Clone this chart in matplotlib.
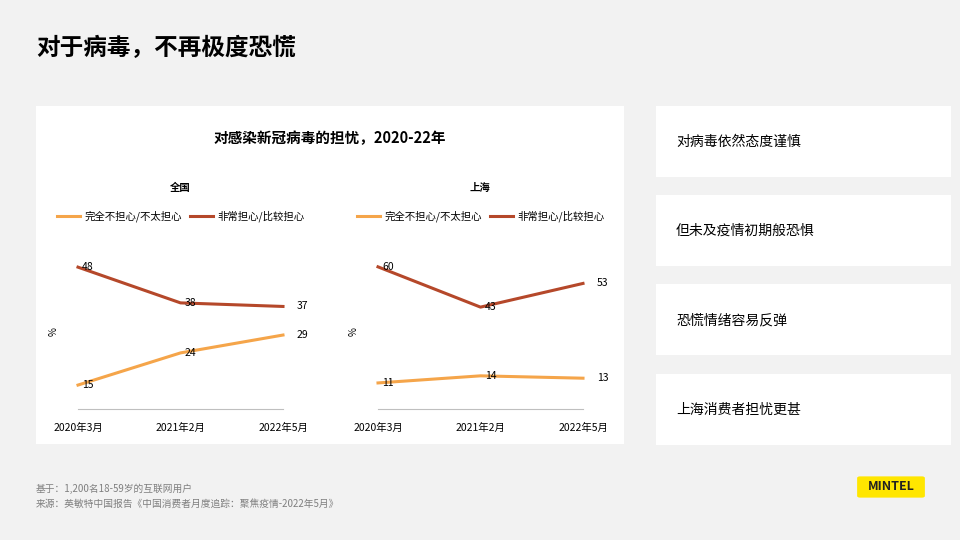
import matplotlib.pyplot as plt
from matplotlib.patches import Rectangle, FancyBboxPatch

plt.rcParams["font.family"] = "Noto Sans CJK SC"

periods = ["2020年3月", "2021年2月", "2022年5月"]
national_low = [15, 24, 29]
national_high = [48, 38, 37]
shanghai_low = [11, 14, 13]
shanghai_high = [60, 43, 53]
series_names = ["完全不担心/不太担心", "非常担心/比较担心"]
takeaways = ["对病毒依然态度谨慎", "但未及疫情初期般恐惧", "恐慌情绪容易反弹", "上海消费者担忧更甚"]

ORANGE = "#f5a54a"
RUST = "#b5482a"
W, H = 960, 540

fig = plt.figure(figsize=(9.6, 5.4), dpi=100)
fig.patch.set_facecolor("#f2f2f2")


def fx(x):
    return x / W


def fy(y):
    return 1 - y / H


fig.text(fx(36), fy(48), "对于病毒，不再极度恐慌", fontsize=17, fontweight="bold", va="center")
fig.patches.append(Rectangle((fx(36), fy(444)), fx(588), 338 / H, transform=fig.transFigure,
                             facecolor="white", edgecolor="none", zorder=-5))
fig.text(fx(330), fy(138), "对感染新冠病毒的担忧，2020-22年", fontsize=10.5, fontweight="bold",
         ha="center", va="center")

box_tops = [106, 195, 284, 374]
for top, txt in zip(box_tops, takeaways):
    fig.patches.append(Rectangle((fx(656), fy(top + 71)), fx(295), 71 / H, transform=fig.transFigure,
                                 facecolor="white", edgecolor="none", zorder=-5))
    fig.text(fx(676), fy(top + 36), txt, fontsize=10, va="center")


def panel(left, title, low, high, ylim):
    ax = fig.add_axes([fx(left), fy(409), fx(205), 154 / H])
    ax.set_facecolor("none")
    x = range(len(periods))
    ax.plot(x, low, color=ORANGE, lw=2.2, label=series_names[0], clip_on=False)
    ax.plot(x, high, color=RUST, lw=2.2, label=series_names[1], clip_on=False)
    ax.set_xlim(0, 2)
    ax.set_ylim(*ylim)
    for vals in (low, high):
        for i, v in enumerate(vals):
            if i == 2:
                ax.annotate(str(v), (i, v), xytext=(10, 0), textcoords="offset points",
                            fontsize=7.5, va="center")
            else:
                ax.annotate(str(v), (i, v), xytext=(3, 0), textcoords="offset points",
                            fontsize=7.5, va="center", ha="left")
    for s in ["top", "right", "left"]:
        ax.spines[s].set_visible(False)
    ax.spines["bottom"].set_color("#bfbfbf")
    ax.set_yticks([])
    ax.set_xticks(list(x))
    ax.set_xticklabels(periods, fontsize=7.5)
    ax.tick_params(axis="x", length=0, pad=10)
    ax.set_ylabel("%", fontsize=7, rotation=90, labelpad=14)
    fig.text(fx(left + 102), fy(188), title, fontsize=7.5, fontweight="bold", ha="center", va="center")
    ax.legend(loc="center", bbox_to_anchor=(0.5, 1.25), ncol=2, frameon=False, fontsize=7.5,
              handlelength=2.2, columnspacing=0.8, handletextpad=0.4)
    return ax


panel(78, "全国", national_low, national_high, (8.3, 51.4))
panel(378, "上海", shanghai_low, shanghai_high, (0, 65))

fig.text(fx(36), fy(489), "基于：1,200名18-59岁的互联网用户", fontsize=7, color="#7f7f7f", va="center")
fig.text(fx(36), fy(504), "来源：英敏特中国报告《中国消费者月度追踪：聚焦疫情-2022年5月》", fontsize=7,
         color="#7f7f7f", va="center")

fig.patches.append(FancyBboxPatch((fx(860), fy(496)), fx(62), 18 / H, transform=fig.transFigure,
                                  boxstyle="round,pad=0.003", facecolor="#ffe600", edgecolor="none"))
fig.text(fx(891), fy(487), "MINTEL", fontsize=9, fontweight="bold", ha="center", va="center",
         color="#222222")

fig.savefig("out.png", dpi=100, facecolor=fig.get_facecolor())
